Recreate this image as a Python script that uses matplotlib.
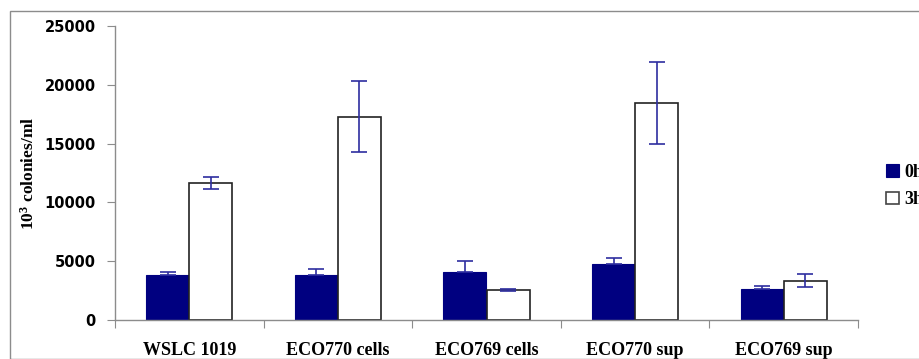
import matplotlib
matplotlib.use("Agg")
import matplotlib.pyplot as plt
import numpy as np
from matplotlib.patches import Rectangle

plt.rcParams["mathtext.fontset"] = "custom"
plt.rcParams["mathtext.rm"] = "Liberation Serif:bold"
plt.rcParams["mathtext.bf"] = "Liberation Serif:bold"
plt.rcParams["mathtext.it"] = "Liberation Serif:bold"

categories = ["WSLC 1019", "ECO770 cells", "ECO769 cells", "ECO770 sup", "ECO769 sup"]
series_names = ["0h", "3h"]
vals_0h = [3830, 3850, 4050, 4720, 2600]
err_0h = [290, 500, 1000, 550, 310]
vals_3h = [11650, 17300, 2550, 18450, 3350]
err_3h = [530, 3000, 50, 3500, 580]
yticks = [0, 5000, 10000, 15000, 20000, 25000]

fig = plt.figure(figsize=(9.2, 3.59), dpi=100)
fig.patches.append(Rectangle((10/920, 0), 1.2, 1 - 11/359, transform=fig.transFigure,
                             fill=False, edgecolor="#8c8c8c", linewidth=1.0))
ax = fig.add_axes([115/920, 1 - 320/359, (858-115)/920, (320-26)/359])

x = np.arange(len(categories))
w = 0.29
navy = "#000080"
ecol = "#2e2ea0"
b0 = ax.bar(x - w/2, vals_0h, w, color=navy, edgecolor=navy, linewidth=0.8, label=series_names[0], zorder=2)
b1 = ax.bar(x + w/2, vals_3h, w, color="white", edgecolor="#222222", linewidth=1.2, label=series_names[1], zorder=2)
ax.errorbar(x - w/2, vals_0h, yerr=[np.zeros(len(err_0h)), err_0h], fmt="none", ecolor=ecol,
            elinewidth=1.2, capsize=6, capthick=1.2, zorder=3)
ax.errorbar(x + w/2, vals_3h, yerr=err_3h, fmt="none", ecolor=ecol,
            elinewidth=1.2, capsize=6, capthick=1.2, zorder=3)

ax.set_xlim(-0.5, len(categories) - 0.5)
ax.set_ylim(0, 25000)
ax.set_yticks(yticks)
ax.set_yticklabels([str(v) for v in yticks], fontfamily="DejaVu Sans", fontweight="bold", fontsize=10.5)
ax.set_xticks(np.arange(len(categories) + 1) - 0.5)
ax.set_xticklabels([])
ax.set_xticks(x, minor=True)
ax.set_xticklabels(categories, minor=True, fontfamily="Liberation Serif", fontweight="bold", fontsize=13)
ax.tick_params(axis="x", which="minor", length=0, pad=16)
ax.tick_params(axis="x", which="major", length=6, color="#8c8c8c", direction="out")
ax.tick_params(axis="y", length=6, color="#8c8c8c", direction="out", pad=8)
for s in ["top", "right"]:
    ax.spines[s].set_visible(False)
for s in ["left", "bottom"]:
    ax.spines[s].set_color("#8c8c8c")
    ax.spines[s].set_linewidth(1.0)

ax.set_ylabel(r"$\mathbf{10^3}$ colonies/ml", fontfamily="Liberation Serif", fontweight="bold", fontsize=12.5, labelpad=5)

leg = fig.legend(handles=[b0, b1], labels=series_names, loc="center left",
                 bbox_to_anchor=(870/920, 1 - 186/359), frameon=False,
                 prop={"family": "Liberation Serif", "weight": "bold", "size": 13},
                 handlelength=0.7, handleheight=0.7, handletextpad=0.3, labelspacing=0.6)
leg.legend_handles[1].set_edgecolor("#444444")

fig.savefig("out.png", dpi=100)
